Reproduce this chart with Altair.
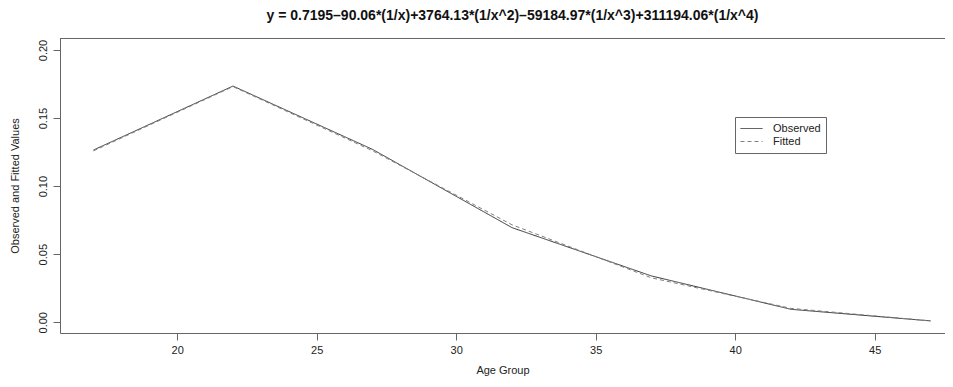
import altair as alt
import pandas as pd

# ---- data ----
age_groups = [17, 22, 27, 32, 37, 42, 47]
observed = [0.1265, 0.1735, 0.1270, 0.0695, 0.0340, 0.0095, 0.0010]
fitted = [0.1259, 0.1731, 0.1260, 0.0716, 0.0326, 0.0102, 0.0010]
series_names = ["Observed", "Fitted"]
x_ticks = [20, 25, 30, 35, 40, 45]
y_ticks = [0.00, 0.05, 0.10, 0.15, 0.20]
title_text = "y = 0.7195\u201390.06*(1/x)+3764.13*(1/x^2)\u201359184.97*(1/x^3)+311194.06*(1/x^4)"

rows = []
for a, o, f in zip(age_groups, observed, fitted):
    rows.append({"age": a, "value": o, "series": "Observed"})
    rows.append({"age": a, "value": f, "series": "Fitted"})
df = pd.DataFrame(rows)

FONT = "Liberation Sans"

legend = alt.Legend(
    orient="none", legendX=675, legendY=79, title=None,
    strokeColor="#666666", fillColor="white", padding=5,
    symbolType="stroke", symbolSize=484, symbolStrokeWidth=1,
    labelFontSize=11, labelFont=FONT,
    labelColor="#222222", labelOffset=10, rowPadding=0, clipHeight=13,
)

base = alt.Chart(df)

lines = base.mark_line(strokeWidth=1, clip=True).encode(
    x=alt.X(
        "age:Q",
        scale=alt.Scale(domain=[15.8, 47.52], nice=False, zero=False),
        axis=alt.Axis(
            values=x_ticks, title="Age Group", format="d",
            labelPadding=4, titlePadding=9,
        ),
    ),
    y=alt.Y(
        "value:Q",
        scale=alt.Scale(domain=[-0.0079, 0.2088], nice=False, zero=False),
        axis=alt.Axis(
            values=y_ticks, format=".2f", title="Observed and Fitted Values",
            labelAngle=270, labelAlign="center", labelBaseline="bottom",
            labelPadding=5, titlePadding=17,
        ),
    ),
    color=alt.Color(
        "series:N",
        scale=alt.Scale(domain=series_names, range=["#333333", "#808080"]),
        legend=legend,
    ),
    strokeDash=alt.StrokeDash(
        "series:N",
        scale=alt.Scale(domain=series_names, range=[[1, 0], [4, 3]]),
        legend=legend,
    ),
)

top_border = base.mark_rule(color="#666666", strokeWidth=1).encode(
    x=alt.value(0), x2=alt.value(885), y=alt.value(0.5)
)

chart = (
    alt.layer(lines, top_border)
    .properties(
        width=885,
        height=295,
        title=alt.TitleParams(
            title_text, fontSize=14, fontWeight="bold", font=FONT,
            color="#111111", offset=15, dx=10, anchor="middle",
        ),
        autosize=alt.AutoSizeParams(type="none"),
        padding={"left": 52, "top": 30, "right": 0, "bottom": 46},
        background="white",
    )
    .configure_view(stroke=None)
    .configure_axis(
        grid=False, domainColor="#666666", tickColor="#666666", tickSize=7,
        labelFont=FONT, labelFontSize=11, labelColor="#222222",
        titleFont=FONT, titleFontSize=11, titleColor="#222222",
        titleFontWeight="normal",
    )
)

chart.save("out.html", embed_options={"renderer": "svg", "actions": False})
